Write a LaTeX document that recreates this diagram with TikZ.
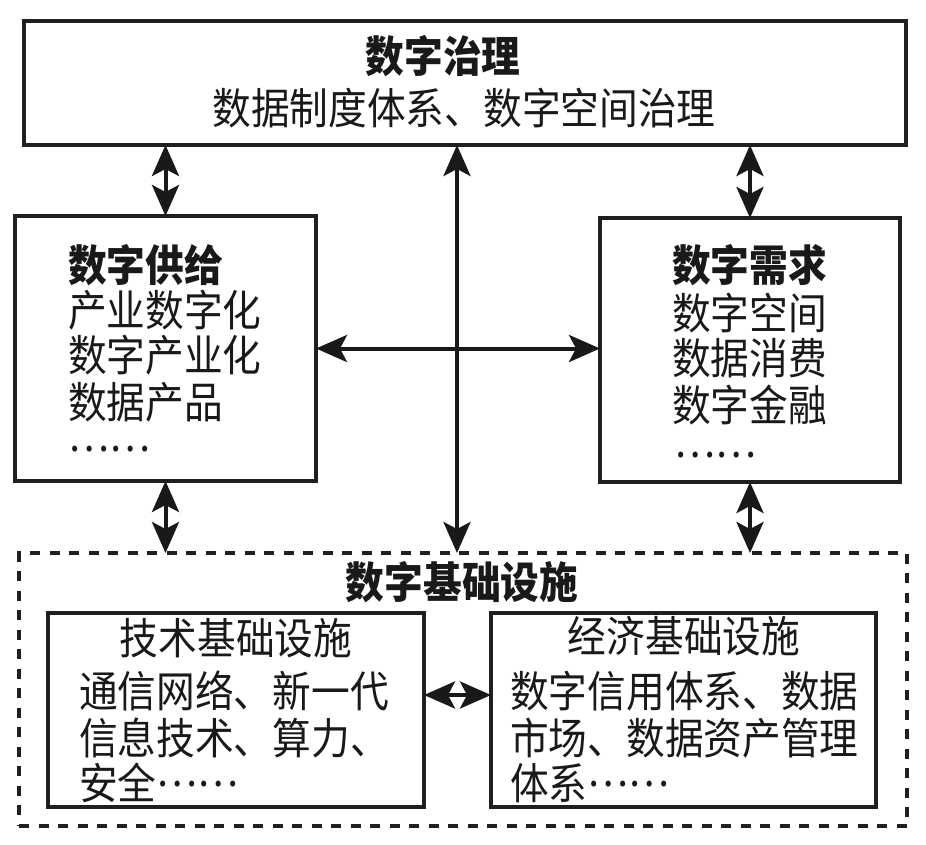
\documentclass[tikz,border=0pt]{standalone}
\usepackage{fontspec}
\newfontfamily\cjk[FakeStretch=0.9]{Noto Sans CJK SC}
\newcommand\mydots{\raisebox{0.3em}{……}}
\usetikzlibrary{arrows.meta}
\begin{document}
\begin{tikzpicture}[x=1pt,y=-1pt,
  box/.style={draw=black!88, line width=3.5pt, inner sep=0pt, outer sep=0pt, rectangle},
  dbox/.style={draw=black!88, line width=3.2pt, inner sep=0pt, outer sep=0pt, rectangle, dash pattern=on 10pt off 9.5pt},
  txt/.style={inner sep=0pt, font=\cjk\fontsize{43pt}{46pt}\selectfont, text=black!90},
  ttl/.style={txt, font=\cjk\bfseries\fontsize{43pt}{46pt}\selectfont},
  arr/.style={draw=black!90, line width=4pt,
    {Stealth[length=31pt,width=27pt,inset=7pt]}-{Stealth[length=31pt,width=27pt,inset=7pt]}}
]
\useasboundingbox (0,0) rectangle (926,844);
% boxes
\node[box, minimum width=882pt, minimum height=124pt] (top) at (465,83) {};
\node[box, minimum width=301pt, minimum height=265pt] (left) at (165.5,348.5) {};
\node[box, minimum width=300pt, minimum height=264pt] (right) at (750,350) {};
\node[dbox, minimum width=888pt, minimum height=273pt] (infra) at (463,689.5) {};
\node[box, minimum width=376pt, minimum height=194pt] (tech) at (236,710) {};
\node[box, minimum width=385pt, minimum height=194pt] (econ) at (683.5,710) {};
% texts
\node[ttl] (tT) at (443,56) {数字治理};
\node[txt] (tL) at (464,108) {数据制度体系、数字空间治理};
\node[ttl, anchor=west] (l0) at (68,265) {数字供给};
\node[txt, anchor=west] (l1) at (68,310) {产业数字化};
\node[txt, anchor=west] (l2) at (68,355) {数字产业化};
\node[txt, anchor=west] (l3) at (68,402) {数据产品};
\node[txt, anchor=west] (l4) at (68,449) {……};
\node[ttl, anchor=west] (r0) at (672,265) {数字需求};
\node[txt, anchor=west] (r1) at (672,313) {数字空间};
\node[txt, anchor=west] (r2) at (672,358) {数据消费};
\node[txt, anchor=west] (r3) at (672,405) {数字金融};
\node[txt, anchor=west] (r4) at (674,455) {……};
\node[ttl] (i0) at (462,582) {数字基础设施};
\node[txt] (a0) at (236,638) {技术基础设施};
\node[txt, anchor=west] (a1) at (79,691) {通信网络、新一代};
\node[txt, anchor=west] (a2) at (79,738) {信息技术、算力、};
\node[txt, anchor=west] (a3) at (79,783) {安全\mydots};
\node[txt] (b0) at (684,636) {经济基础设施};
\node[txt, anchor=west] (b1) at (510,691) {数字信用体系、数据};
\node[txt, anchor=west] (b2) at (510,738) {市场、数据资产管理};
\node[txt, anchor=west] (b3) at (510,783) {体系\mydots};
% connectors
\coordinate (mid) at (457,348);
\coordinate (inmid) at (457,695);
\draw[arr] (left.north |- top.south) -- (left.north);
\draw[arr] (right.north |- top.south) -- (right.north);
\draw[arr] (left.south) -- (left.south |- infra.north);
\draw[arr] (right.south) -- (right.south |- infra.north);
\draw[arr] (mid |- top.south) -- (mid |- infra.north);
\draw[arr] (left.east) -- (left.east -| right.west);
\draw[arr] (tech.east |- inmid) -- (econ.west |- inmid);
\end{tikzpicture}
\end{document}
